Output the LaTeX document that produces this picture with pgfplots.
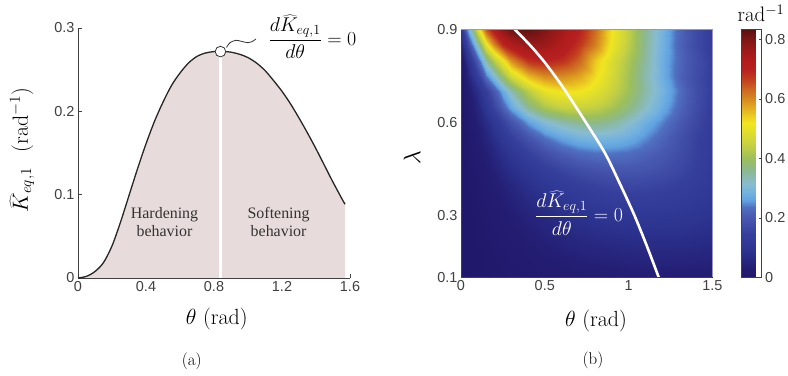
\RequirePackage{fix-cm}
\documentclass[border=0pt]{standalone}
\usepackage{fontspec}
\usepackage{pgfplots}
\usepackage{pgfplotstable}
\pgfplotsset{compat=1.18}
\newfontfamily\ticksans{Liberation Sans}
\newfontfamily\timesf{Liberation Serif}
\definecolor{fillpink}{RGB}{232,219,219}
\definecolor{axgray}{RGB}{64,64,64}
\definecolor{framelav}{RGB}{150,150,190}

\pgfplotstableread{
t k
0 0
0.05 0.0020
0.1 0.0078
0.15 0.0185
0.2 0.0385
0.25 0.067
0.3 0.099
0.35 0.131
0.4 0.161
0.45 0.188
0.5 0.211
0.55 0.231
0.6 0.246
0.65 0.258
0.7 0.266
0.75 0.270
0.8 0.2717
0.84 0.272
0.9 0.2710
0.95 0.2685
1.0 0.2645
1.05 0.258
1.1 0.249
1.15 0.237
1.2 0.224
1.25 0.209
1.3 0.192
1.35 0.174
1.4 0.155
1.45 0.135
1.5 0.115
1.55 0.096
1.5708 0.0885
}\curvea

% columns: theta, lambda, K (rad^-1); 19 theta values per lambda row
\pgfplotstableread{
t l k
0 0.1 0
0.05 0.1 0.0005
0.1 0.1 0.0015
0.15 0.1 0.003
0.2 0.1 0.005
0.25 0.1 0.007
0.3 0.1 0.009
0.4 0.1 0.013
0.5 0.1 0.017
0.6 0.1 0.021
0.7 0.1 0.024
0.8 0.1 0.026
0.9 0.1 0.028
1.0 0.1 0.030
1.1 0.1 0.031
1.2 0.1 0.031
1.3 0.1 0.031
1.4 0.1 0.030
1.5 0.1 0.029
0 0.2 0
0.05 0.2 0.0015
0.1 0.2 0.004
0.15 0.2 0.007
0.2 0.2 0.011
0.25 0.2 0.015
0.3 0.2 0.019
0.4 0.2 0.028
0.5 0.2 0.037
0.6 0.2 0.045
0.7 0.2 0.052
0.8 0.2 0.057
0.9 0.2 0.061
1.0 0.2 0.064
1.1 0.2 0.066
1.2 0.2 0.066
1.3 0.2 0.065
1.4 0.2 0.063
1.5 0.2 0.059
0 0.3 0
0.05 0.3 0.003
0.1 0.3 0.007
0.15 0.3 0.012
0.2 0.3 0.018
0.25 0.3 0.025
0.3 0.3 0.033
0.4 0.3 0.048
0.5 0.3 0.062
0.6 0.3 0.075
0.7 0.3 0.086
0.8 0.3 0.095
0.9 0.3 0.102
1.0 0.3 0.106
1.1 0.3 0.108
1.2 0.3 0.107
1.3 0.3 0.104
1.4 0.3 0.098
1.5 0.3 0.090
0 0.4 0
0.05 0.4 0.004
0.1 0.4 0.011
0.15 0.4 0.020
0.2 0.4 0.032
0.25 0.4 0.044
0.3 0.4 0.057
0.4 0.4 0.081
0.5 0.4 0.104
0.6 0.4 0.125
0.7 0.4 0.141
0.8 0.4 0.153
0.9 0.4 0.161
1.0 0.4 0.164
1.1 0.4 0.162
1.2 0.4 0.155
1.3 0.4 0.144
1.4 0.4 0.129
1.5 0.4 0.111
0 0.45 0
0.05 0.45 0.006
0.1 0.45 0.016
0.15 0.45 0.029
0.2 0.45 0.045
0.25 0.45 0.061
0.3 0.45 0.077
0.4 0.45 0.107
0.5 0.45 0.136
0.6 0.45 0.160
0.7 0.45 0.178
0.8 0.45 0.190
0.9 0.45 0.197
1.0 0.45 0.198
1.1 0.45 0.192
1.2 0.45 0.180
1.3 0.45 0.163
1.4 0.45 0.141
1.5 0.45 0.116
0 0.5 0
0.05 0.5 0.009
0.1 0.5 0.022
0.15 0.5 0.038
0.2 0.5 0.058
0.25 0.5 0.080
0.3 0.5 0.102
0.4 0.5 0.145
0.5 0.5 0.182
0.6 0.5 0.210
0.7 0.5 0.227
0.8 0.5 0.236
0.9 0.5 0.238
1.0 0.5 0.232
1.1 0.5 0.218
1.2 0.5 0.200
1.3 0.5 0.176
1.4 0.5 0.148
1.5 0.5 0.120
0 0.55 0
0.05 0.55 0.010
0.1 0.55 0.030
0.15 0.55 0.050
0.2 0.55 0.080
0.25 0.55 0.110
0.3 0.55 0.140
0.4 0.55 0.190
0.5 0.55 0.235
0.6 0.55 0.265
0.7 0.55 0.285
0.8 0.55 0.295
0.9 0.55 0.290
1.0 0.55 0.275
1.1 0.55 0.250
1.2 0.55 0.220
1.3 0.55 0.185
1.4 0.55 0.150
1.5 0.55 0.120
0 0.6 0
0.05 0.6 0.015
0.1 0.6 0.040
0.15 0.6 0.070
0.2 0.6 0.110
0.25 0.6 0.150
0.3 0.6 0.190
0.4 0.6 0.260
0.5 0.6 0.310
0.6 0.6 0.340
0.7 0.6 0.360
0.8 0.6 0.367
0.9 0.6 0.352
1.0 0.6 0.320
1.1 0.6 0.280
1.2 0.6 0.245
1.3 0.6 0.205
1.4 0.6 0.165
1.5 0.6 0.128
0 0.65 0
0.05 0.65 0.020
0.1 0.65 0.055
0.15 0.65 0.105
0.2 0.65 0.165
0.25 0.65 0.220
0.3 0.65 0.270
0.4 0.65 0.360
0.5 0.65 0.420
0.6 0.65 0.450
0.7 0.65 0.455
0.8 0.65 0.445
0.9 0.65 0.415
1.0 0.65 0.372
1.1 0.65 0.325
1.2 0.65 0.275
1.3 0.65 0.225
1.4 0.65 0.175
1.5 0.65 0.135
0 0.7 0
0.05 0.7 0.030
0.1 0.7 0.080
0.15 0.7 0.140
0.2 0.7 0.210
0.25 0.7 0.275
0.3 0.7 0.335
0.4 0.7 0.435
0.5 0.7 0.505
0.6 0.7 0.525
0.7 0.7 0.522
0.8 0.7 0.497
0.9 0.7 0.452
1.0 0.7 0.400
1.1 0.7 0.345
1.2 0.7 0.290
1.3 0.7 0.235
1.4 0.7 0.180
1.5 0.7 0.140
0 0.75 0
0.05 0.75 0.060
0.1 0.75 0.140
0.15 0.75 0.240
0.2 0.75 0.320
0.25 0.75 0.400
0.3 0.75 0.470
0.4 0.75 0.560
0.5 0.75 0.600
0.6 0.75 0.600
0.7 0.75 0.580
0.8 0.75 0.530
0.9 0.75 0.470
1.0 0.75 0.405
1.1 0.75 0.340
1.2 0.75 0.280
1.3 0.75 0.220
1.4 0.75 0.175
1.5 0.75 0.138
0 0.8 0.01
0.05 0.8 0.100
0.1 0.8 0.220
0.15 0.8 0.350
0.2 0.8 0.450
0.25 0.8 0.520
0.3 0.8 0.600
0.4 0.8 0.685
0.5 0.8 0.700
0.6 0.8 0.685
0.7 0.8 0.640
0.8 0.8 0.550
0.9 0.8 0.480
1.0 0.8 0.415
1.1 0.8 0.350
1.2 0.8 0.280
1.3 0.8 0.225
1.4 0.8 0.180
1.5 0.8 0.140
0 0.85 0.05
0.05 0.85 0.180
0.1 0.85 0.340
0.15 0.85 0.500
0.2 0.85 0.610
0.25 0.85 0.690
0.3 0.85 0.730
0.4 0.85 0.770
0.5 0.85 0.765
0.6 0.85 0.730
0.7 0.85 0.680
0.8 0.85 0.610
0.9 0.85 0.510
1.0 0.85 0.435
1.1 0.85 0.355
1.2 0.85 0.285
1.3 0.85 0.220
1.4 0.85 0.170
1.5 0.85 0.135
0 0.9 0.12
0.05 0.9 0.300
0.1 0.9 0.500
0.15 0.9 0.650
0.2 0.9 0.740
0.25 0.9 0.790
0.3 0.9 0.820
0.4 0.9 0.830
0.5 0.9 0.800
0.6 0.9 0.760
0.7 0.9 0.710
0.8 0.9 0.630
0.9 0.9 0.520
1.0 0.9 0.440
1.1 0.9 0.360
1.2 0.9 0.290
1.3 0.9 0.225
1.4 0.9 0.170
1.5 0.9 0.135
}\heat

\begin{document}
\begin{tikzpicture}
\useasboundingbox (0,0) rectangle (788bp,376bp);
\begin{axis}[name=A, at={(78bp,98bp)}, anchor=south west, scale only axis,
  width=272bp, height=250bp,
  xmin=0, xmax=1.6, ymin=0, ymax=0.3,
  axis lines=left, axis line style={-, draw=axgray, line width=0.9bp},
  xtick={0,0.4,0.8,1.2,1.6}, ytick={0,0.1,0.2,0.3},
  tick align=inside, major tick length=3.5bp,
  tick style={axgray, line width=0.7bp},
  /pgf/number format/assume math mode=true,
  ticklabel style={font=\ticksans\fontsize{14.5}{16}\selectfont, text=axgray},
  clip=false]
\addplot[fill=fillpink, draw=none] table[x=t,y=k]{\curvea} \closedcycle;
\addplot[white, line width=2.6bp] coordinates {(0.838,0) (0.838,0.2717)};
\addplot[black!85, line width=1.3bp, smooth] table[x=t,y=k]{\curvea};
\addplot[only marks, mark=*, mark size=5.3bp, mark options={fill=white, draw=black!80, line width=0.8bp}] coordinates {(0.838,0.2717)};
\node[font=\timesf\fontsize{16}{18.3}\selectfont, align=center, text=black!80] at (axis cs:0.509,0.067) {Hardening\\behavior};
\node[font=\timesf\fontsize{16}{18.3}\selectfont, align=center, text=black!80] at (axis cs:1.18,0.067) {Softening\\behavior};
\end{axis}

\begin{axis}[name=B, at={(461bp,98.7bp)}, anchor=south west, scale only axis,
  width=251.3bp, height=248bp,
  xmin=0, xmax=1.5, ymin=0.1, ymax=0.9,
  axis line style={draw=none},
  xtick={0,0.5,1,1.5}, ytick={0.1,0.3,0.6,0.9},
  tick pos=left, tick align=inside, major tick length=3bp,
  tick style={axgray, line width=0.6bp},
  /pgf/number format/assume math mode=true,
  ticklabel style={font=\ticksans\fontsize{14.5}{16}\selectfont, text=axgray},
  colormap={kmap}{rgb255(0)=(32,24,106) rgb255(34)=(36,30,116) rgb255(90)=(44,52,144)
    rgb255(146)=(54,64,156) rgb255(202)=(72,88,176) rgb255(236)=(80,112,192)
    rgb255(258)=(96,160,224) rgb255(281)=(112,176,224) rgb255(315)=(136,188,208)
    rgb255(360)=(140,184,144) rgb255(400)=(156,191,92) rgb255(450)=(200,210,64)
    rgb255(518)=(240,230,32) rgb255(540)=(236,208,32) rgb255(574)=(224,168,32)
    rgb255(600)=(214,138,32) rgb255(635)=(204,100,32) rgb255(669)=(192,60,28)
    rgb255(700)=(184,32,32) rgb255(736)=(176,28,28) rgb255(782)=(144,24,24)
    rgb255(816)=(110,20,20) rgb255(834)=(90,16,16)},
  point meta min=0, point meta max=0.834,
  colorbar, colorbar shift/.style={},
  colorbar style={at={(parent axis.south east)}, anchor=south west, xshift=29.4bp,
    scale only axis, width=20bp, height=248bp,
    ytick={0,0.2,0.4,0.6,0.8}, ytick pos=right, yticklabel pos=right,
    tick align=inside, major tick length=3bp,
    tick style={axgray, line width=0.6bp},
    axis line style={draw=axgray, line width=0.8bp},
    /pgf/number format/assume math mode=true,
    yticklabel style={font=\ticksans\fontsize{14.5}{16}\selectfont, text=axgray}}]
\addplot[surf, shader=interp, mesh/cols=19, point meta=\thisrow{k}] table[x=t,y=l]{\heat};
\addplot[white, line width=2.6bp, smooth] coordinates {(0.32,0.9) (0.41,0.85) (0.49,0.80) (0.56,0.75) (0.625,0.70) (0.745,0.60) (0.86,0.50) (0.95,0.40) (1.035,0.30) (1.11,0.20) (1.18,0.10)};
\node[text=white, font=\fontsize{20}{24}\selectfont] at (axis cs:0.705,0.307) {$\displaystyle\frac{d\widehat{K}_{eq,1}}{d\theta}=0$};
\end{axis}
\draw[axgray, line width=0.7bp] (B.north west) -- (B.south west) -- (B.south east);
\draw[framelav, line width=0.7bp] (B.north west) -- (B.north east) -- (B.south east);

\node[rotate=90, font=\fontsize{22}{26}\selectfont] at (22bp,226bp) {$\widehat{K}_{eq,1}$\hspace{0.7em}(rad$^{-1}$)};
\node[font=\fontsize{22}{26}\selectfont] at (216.7bp,57bp) {$\theta$ (rad)};
\node[font=\fontsize{22}{26}\selectfont] at (596bp,55bp) {$\theta$ (rad)};
\node[rotate=90, font=\fontsize{24}{28}\selectfont] at (412bp,218bp) {$\lambda$};
\node[font=\fontsize{17}{20}\selectfont] at (191.7bp,14.3bp) {(a)};
\node[font=\fontsize{17}{20}\selectfont] at (593bp,16bp) {(b)};
\node[font=\fontsize{21}{25}\selectfont, anchor=base] at (761bp,354.3bp) {rad$^{-1}$};
\node[font=\fontsize{20}{24}\selectfont] at (312.5bp,339.3bp) {$\displaystyle\frac{d\widehat{K}_{eq,1}}{d\theta}=0$};
\draw[black!80, line width=0.8bp] plot[smooth] coordinates {(226.5bp,328.5bp) (230bp,333.3bp) (236bp,335.7bp) (242bp,334.5bp) (248bp,333.3bp) (252bp,334.3bp) (256bp,337bp)};
\end{tikzpicture}
\end{document}
